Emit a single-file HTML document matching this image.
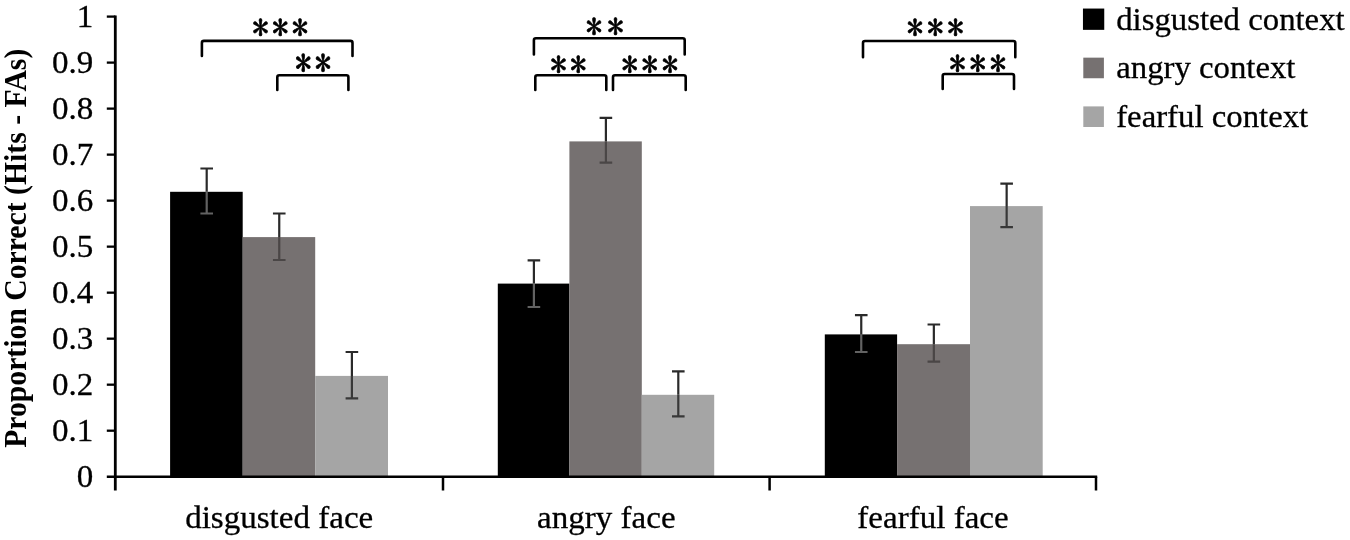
<!DOCTYPE html>
<html><head><meta charset="utf-8"><title>chart</title>
<style>
html,body{margin:0;padding:0;background:#fff;}
body{width:1350px;height:540px;overflow:hidden;}
svg{display:block;}
.t{font-family:"Liberation Serif",serif;font-size:32.4px;fill:#000;stroke:#000;stroke-width:0.3px;}
.b{font-family:"Liberation Serif",serif;font-size:29.7px;font-weight:bold;fill:#000;}
.s{font-family:"IPAGothic","DejaVu Serif",serif;font-size:36px;fill:#000;stroke:#000;stroke-width:0.7px;stroke-linejoin:round;}
</style></head><body>
<svg width="1350" height="540" viewBox="0 0 1350 540">
<rect width="1350" height="540" fill="#fff"/>
<rect x="170.10" y="191.80" width="72.60" height="284.90" fill="#000000"/>
<rect x="242.70" y="237.10" width="72.50" height="239.60" fill="#767171"/>
<rect x="315.20" y="375.90" width="72.80" height="100.80" fill="#a5a5a5"/>
<rect x="497.80" y="283.60" width="71.60" height="193.10" fill="#000000"/>
<rect x="569.40" y="141.40" width="72.40" height="335.30" fill="#767171"/>
<rect x="641.80" y="394.80" width="72.40" height="81.90" fill="#a5a5a5"/>
<rect x="824.80" y="334.40" width="72.30" height="142.30" fill="#000000"/>
<rect x="897.10" y="344.20" width="72.90" height="132.50" fill="#767171"/>
<rect x="970.00" y="206.10" width="72.70" height="270.60" fill="#a5a5a5"/>
<path d="M200.40 168.50H213.00M206.70 168.50V191.80" stroke="#2a2a2a" stroke-width="2.2" fill="none"/>
<path d="M200.40 213.50H213.00M206.70 191.80V213.50" stroke="#626262" stroke-width="2.2" fill="none"/>
<path d="M272.95 213.50H285.55M279.25 213.50V237.10" stroke="#2a2a2a" stroke-width="2.2" fill="none"/>
<path d="M272.95 260.00H285.55M279.25 237.10V260.00" stroke="#4a4646" stroke-width="2.2" fill="none"/>
<path d="M345.60 352.00H358.20M351.90 352.00V375.90" stroke="#2a2a2a" stroke-width="2.2" fill="none"/>
<path d="M345.60 398.40H358.20M351.90 375.90V398.40" stroke="#383838" stroke-width="2.2" fill="none"/>
<path d="M527.60 260.40H540.20M533.90 260.40V283.60" stroke="#2a2a2a" stroke-width="2.2" fill="none"/>
<path d="M527.60 307.00H540.20M533.90 283.60V307.00" stroke="#626262" stroke-width="2.2" fill="none"/>
<path d="M599.60 117.80H612.20M605.90 117.80V141.40" stroke="#2a2a2a" stroke-width="2.2" fill="none"/>
<path d="M599.60 162.60H612.20M605.90 141.40V162.60" stroke="#4a4646" stroke-width="2.2" fill="none"/>
<path d="M672.00 371.30H684.60M678.30 371.30V394.80" stroke="#2a2a2a" stroke-width="2.2" fill="none"/>
<path d="M672.00 416.40H684.60M678.30 394.80V416.40" stroke="#383838" stroke-width="2.2" fill="none"/>
<path d="M854.95 315.10H867.55M861.25 315.10V334.40" stroke="#2a2a2a" stroke-width="2.2" fill="none"/>
<path d="M854.95 352.00H867.55M861.25 334.40V352.00" stroke="#626262" stroke-width="2.2" fill="none"/>
<path d="M927.55 324.50H940.15M933.85 324.50V344.20" stroke="#2a2a2a" stroke-width="2.2" fill="none"/>
<path d="M927.55 361.60H940.15M933.85 344.20V361.60" stroke="#4a4646" stroke-width="2.2" fill="none"/>
<path d="M1000.35 183.70H1012.95M1006.65 183.70V206.10" stroke="#2a2a2a" stroke-width="2.2" fill="none"/>
<path d="M1000.35 227.20H1012.95M1006.65 206.10V227.20" stroke="#383838" stroke-width="2.2" fill="none"/>
<path d="M115.3 15.400000000000002V490.5" stroke="#000" stroke-width="2.8" fill="none"/>
<path d="M106.8 476.7H1097.2" stroke="#000" stroke-width="2.6" fill="none"/>
<path d="M106.8 430.69H115.3" stroke="#000" stroke-width="2.3" fill="none"/>
<path d="M106.8 384.68H115.3" stroke="#000" stroke-width="2.3" fill="none"/>
<path d="M106.8 338.67H115.3" stroke="#000" stroke-width="2.3" fill="none"/>
<path d="M106.8 292.66H115.3" stroke="#000" stroke-width="2.3" fill="none"/>
<path d="M106.8 246.65H115.3" stroke="#000" stroke-width="2.3" fill="none"/>
<path d="M106.8 200.64H115.3" stroke="#000" stroke-width="2.3" fill="none"/>
<path d="M106.8 154.63H115.3" stroke="#000" stroke-width="2.3" fill="none"/>
<path d="M106.8 108.62H115.3" stroke="#000" stroke-width="2.3" fill="none"/>
<path d="M106.8 62.61H115.3" stroke="#000" stroke-width="2.3" fill="none"/>
<path d="M106.8 16.60H115.3" stroke="#000" stroke-width="2.3" fill="none"/>
<path d="M443.00 476.7V490.5" stroke="#000" stroke-width="2.5" fill="none"/>
<path d="M769.60 476.7V490.5" stroke="#000" stroke-width="2.5" fill="none"/>
<path d="M1096.00 476.7V490.5" stroke="#000" stroke-width="2.5" fill="none"/>
<text transform="translate(93.20,487.00) scale(1.02,1)" text-anchor="end" class="t">0</text>
<text transform="translate(93.20,440.99) scale(1.02,1)" text-anchor="end" class="t">0.1</text>
<text transform="translate(93.20,394.98) scale(1.02,1)" text-anchor="end" class="t">0.2</text>
<text transform="translate(93.20,348.97) scale(1.02,1)" text-anchor="end" class="t">0.3</text>
<text transform="translate(93.20,302.96) scale(1.02,1)" text-anchor="end" class="t">0.4</text>
<text transform="translate(93.20,256.95) scale(1.02,1)" text-anchor="end" class="t">0.5</text>
<text transform="translate(93.20,210.94) scale(1.02,1)" text-anchor="end" class="t">0.6</text>
<text transform="translate(93.20,164.93) scale(1.02,1)" text-anchor="end" class="t">0.7</text>
<text transform="translate(93.20,118.92) scale(1.02,1)" text-anchor="end" class="t">0.8</text>
<text transform="translate(93.20,72.91) scale(1.02,1)" text-anchor="end" class="t">0.9</text>
<text transform="translate(93.20,26.90) scale(1.02,1)" text-anchor="end" class="t">1</text>
<text transform="translate(279.20,527.80) scale(1.02,1)" text-anchor="middle" class="t">disgusted face</text>
<text transform="translate(606.30,527.80) scale(1.02,1)" text-anchor="middle" class="t">angry face</text>
<text transform="translate(933.00,527.80) scale(1.02,1)" text-anchor="middle" class="t">fearful face</text>
<text transform="translate(26.1,248.3) scale(1.035,1) rotate(-90)" text-anchor="middle" class="b">Proportion Correct (Hits - FAs)</text>
<rect x="1082.95" y="8.55" width="21.3" height="21.3" fill="#000000"/>
<text transform="translate(1116.20,29.70) scale(1.012,1)" class="t">disgusted context</text>
<rect x="1083.30" y="57.65" width="20.6" height="20.6" fill="#767171"/>
<text transform="translate(1116.20,78.45) scale(1.012,1)" class="t">angry context</text>
<rect x="1083.30" y="106.40" width="20.6" height="20.6" fill="#a5a5a5"/>
<text transform="translate(1116.20,127.20) scale(1.012,1)" class="t">fearful context</text>
<path d="M201.9 56.0V42.9Q201.9 40.9 203.9 40.9H350.5Q352.5 40.9 352.5 42.9V56.0" stroke="#000" stroke-width="2.6" fill="none" stroke-linecap="round"/>
<path d="M277.3 90.0V77.3Q277.3 75.3 279.3 75.3H346.4Q348.4 75.3 348.4 77.3V90.0" stroke="#000" stroke-width="2.6" fill="none" stroke-linecap="round"/>
<path d="M533.9 54.5V40.3Q533.9 38.3 535.9 38.3H682.7Q684.7 38.3 684.7 40.3V54.5" stroke="#000" stroke-width="2.6" fill="none" stroke-linecap="round"/>
<path d="M535.3 90.0V77.3Q535.3 75.3 537.3 75.3H604.3Q606.3 75.3 606.3 77.3V90.0" stroke="#000" stroke-width="2.6" fill="none" stroke-linecap="round"/>
<path d="M613.0 90.0V77.3Q613.0 75.3 615.0 75.3H683.7Q685.7 75.3 685.7 77.3V90.0" stroke="#000" stroke-width="2.6" fill="none" stroke-linecap="round"/>
<path d="M863.0 57.2V43.0Q863.0 41.0 865.0 41.0H1013.3Q1015.3 41.0 1015.3 43.0V57.2" stroke="#000" stroke-width="2.6" fill="none" stroke-linecap="round"/>
<path d="M942.7 89.0V76.0Q942.7 74.0 944.7 74.0H1012.0Q1014.0 74.0 1014.0 76.0V89.0" stroke="#000" stroke-width="2.6" fill="none" stroke-linecap="round"/>
<text transform="translate(252.34,39.84) scale(0.9197,0.9500)" class="s" style="letter-spacing:3.42px">***</text>
<text transform="translate(295.04,76.02) scale(0.9197,0.9889)" class="s" style="letter-spacing:3.42px">**</text>
<text transform="translate(585.74,38.65) scale(0.9197,0.9722)" class="s" style="letter-spacing:5.27px">**</text>
<text transform="translate(550.34,77.00) scale(0.9197,0.9833)" class="s" style="letter-spacing:3.42px">**</text>
<text transform="translate(621.44,77.00) scale(0.9197,0.9833)" class="s" style="letter-spacing:3.91px">***</text>
<text transform="translate(906.64,39.92) scale(0.9197,0.9667)" class="s" style="letter-spacing:4.02px">***</text>
<text transform="translate(949.34,75.57) scale(0.9197,0.9778)" class="s" style="letter-spacing:3.96px">***</text>
</svg>
</body></html>
